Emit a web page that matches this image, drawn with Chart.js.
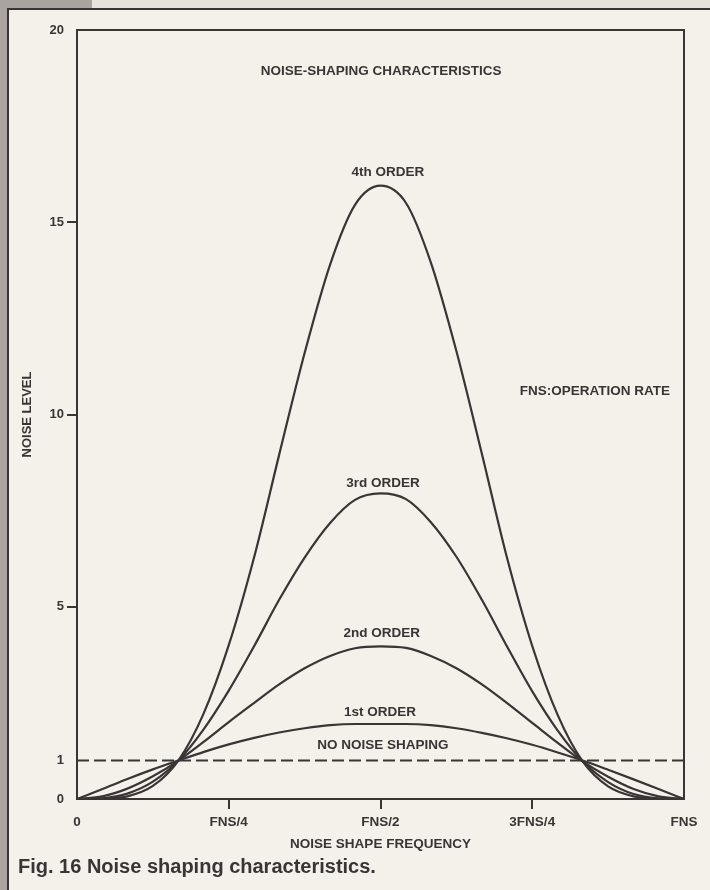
<!DOCTYPE html>
<html>
<head>
<meta charset="utf-8">
<script src="https://cdn.jsdelivr.net/npm/chart.js@4.4.1/dist/chart.umd.min.js"></script>
<style>
  html, body { margin: 0; padding: 0; }
  body { width: 710px; height: 890px; background: #f4f0ea; position: relative; overflow: hidden; }
  #edgeLeft { position: absolute; left: 0; top: 0; width: 7px; height: 890px; background: #a9a4a0; }
  #edgeTop { position: absolute; left: 0; top: 0; width: 710px; height: 8px; background: #e7e2dd; }
  #edgeTopDark { position: absolute; left: 0; top: 0; width: 92px; height: 8px; background: #a9a4a0; }
  #frame { position: absolute; left: 7px; top: 8px; width: 703px; height: 882px; border-left: 2px solid #3a3434; border-top: 2px solid #3a3434; box-sizing: border-box; }
  #chart { position: absolute; left: 0; top: 0; }
  #caption { position: absolute; left: 18px; top: 855px; font: bold 20px "Liberation Sans", Arial, sans-serif; color: #3a3434; }
</style>
</head>
<body>
<div id="edgeTop"></div>
<div id="edgeTopDark"></div>
<div id="edgeLeft"></div>
<div id="frame"></div>
<canvas id="chart" width="710" height="890"></canvas>
<div id="caption">Fig. 16 Noise shaping characteristics.</div>
<script>
// frequency as a fraction of FNS
const freq = [0, 0.042, 0.083, 0.125, 0.167, 0.208, 0.25, 0.292, 0.333, 0.375, 0.417, 0.458, 0.5,
  0.542, 0.583, 0.625, 0.667, 0.708, 0.75, 0.792, 0.833, 0.875, 0.917, 0.958, 1];

// noise level
const firstOrder = [0, 0.26, 0.52, 0.77, 1.0, 1.22, 1.42, 1.59, 1.73, 1.84, 1.92, 1.95, 1.95,
  1.95, 1.92, 1.84, 1.72, 1.58, 1.41, 1.21, 1.0, 0.76, 0.51, 0.26, 0];
const secondOrder = [0, 0.07, 0.27, 0.59, 1.0, 1.48, 2.0, 2.5, 2.98, 3.4, 3.72, 3.92, 3.97,
  3.93, 3.72, 3.4, 2.98, 2.5, 1.98, 1.46, 0.98, 0.58, 0.26, 0.07, 0];
const thirdOrder = [0, 0.02, 0.14, 0.45, 1.0, 1.8, 2.82, 3.98, 5.18, 6.28, 7.18, 7.78, 7.95,
  7.8, 7.2, 6.3, 5.18, 3.98, 2.8, 1.78, 0.98, 0.44, 0.13, 0.02, 0];
const fourthOrder = [0, 0.01, 0.07, 0.34, 1.0, 2.2, 4.0, 6.3, 8.95, 11.6, 13.9, 15.45, 15.95,
  15.5, 13.95, 11.65, 8.98, 6.3, 3.98, 2.18, 0.98, 0.33, 0.07, 0.01, 0];

// no noise shaping reference
const flatFreq = [0, 1];
const noShaping = [1, 1];

// axis ticks
const xTickValues = [0, 0.25, 0.5, 0.75, 1];
const xTickLabels = ["0", "FNS/4", "FNS/2", "3FNS/4", "FNS"];
const yTickValues = [0, 1, 5, 10, 15, 20];

// text inside the plot
const noteTexts = ["NOISE-SHAPING CHARACTERISTICS", "4th ORDER", "3rd ORDER", "2nd ORDER",
  "1st ORDER", "NO NOISE SHAPING", "FNS:OPERATION RATE"];
const noteFreq = [0.501, 0.512, 0.504, 0.502, 0.499, 0.504, 0.853];
const noteLevel = [18.93, 16.31, 8.22, 4.32, 2.26, 1.40, 10.61];

const ink = "#3a3434";
const font = "'Liberation Sans', Arial, sans-serif";

function points(xs, ys) {
  return xs.map((x, i) => ({ x: x, y: ys[i] }));
}

function curve(label, ys) {
  return {
    label: label,
    data: points(freq, ys),
    borderColor: ink,
    borderWidth: 2.2,
    pointRadius: 0,
    cubicInterpolationMode: "monotone",
    fill: false,
    clip: false
  };
}

const framePlugin = {
  id: "frame",
  beforeDatasetsDraw(chart) {
    const a = chart.chartArea;
    const c = chart.ctx;
    c.save();
    c.strokeStyle = ink;
    c.lineWidth = 2;
    c.strokeRect(a.left, a.top, a.right - a.left, a.bottom - a.top);
    c.restore();
  },
  afterDatasetsDraw(chart) {
    const c = chart.ctx;
    const xs = chart.scales.x;
    const ys = chart.scales.y;
    c.save();
    c.fillStyle = ink;
    c.font = "bold 13.5px " + font;
    c.textAlign = "center";
    c.textBaseline = "middle";
    noteTexts.forEach((t, i) => {
      c.fillText(t, xs.getPixelForValue(noteFreq[i]), ys.getPixelForValue(noteLevel[i]));
    });
    c.restore();
  }
};

const tickColor = (hidden) => (ctx) => hidden.includes(ctx.tick && ctx.tick.value) ? "rgba(0,0,0,0)" : ink;

new Chart(document.getElementById("chart"), {
  type: "line",
  data: {
    datasets: [
      curve("1st ORDER", firstOrder),
      curve("2nd ORDER", secondOrder),
      curve("3rd ORDER", thirdOrder),
      curve("4th ORDER", fourthOrder),
      {
        label: "NO NOISE SHAPING",
        data: points(flatFreq, noShaping),
        borderColor: ink,
        borderWidth: 2,
        borderDash: [12, 5],
        pointRadius: 0,
        fill: false
      }
    ]
  },
  options: {
    responsive: false,
    animation: false,
    layout: { padding: { top: 30, right: 26, left: 0, bottom: 0 } },
    plugins: {
      legend: { display: false },
      tooltip: { enabled: false }
    },
    scales: {
      x: {
        type: "linear",
        min: 0,
        max: 1,
        afterBuildTicks: (axis) => { axis.ticks = xTickValues.map(v => ({ value: v })); },
        afterFit: (axis) => { axis.height = 91; },
        ticks: {
          color: ink,
          font: { family: font, size: 13.5, weight: "bold" },
          padding: 5,
          maxRotation: 0,
          autoSkip: false,
          callback: (v) => xTickLabels[xTickValues.indexOf(v)]
        },
        grid: { drawOnChartArea: false, drawTicks: true, tickLength: 10, lineWidth: 2, color: tickColor([0, 1]) },
        border: { display: true, color: ink, width: 2 },
        title: {
          display: true,
          text: "NOISE SHAPE FREQUENCY",
          color: ink,
          font: { family: font, size: 13.5, weight: "bold" },
          padding: { top: 0, bottom: 38 }
        }
      },
      y: {
        type: "linear",
        min: 0,
        max: 20,
        afterBuildTicks: (axis) => { axis.ticks = yTickValues.map(v => ({ value: v })); },
        afterFit: (axis) => { axis.width = 77; },
        ticks: {
          color: ink,
          font: { family: font, size: 13, weight: "bold" },
          padding: 3,
          autoSkip: false
        },
        grid: { drawOnChartArea: false, drawTicks: true, tickLength: 10, lineWidth: 2, color: tickColor([0, 1, 20]) },
        border: { display: true, color: ink, width: 2 },
        title: {
          display: true,
          text: "NOISE LEVEL",
          color: ink,
          font: { family: font, size: 13, weight: "bold" },
          padding: { top: 20, bottom: 0 }
        }
      }
    }
  },
  plugins: [framePlugin]
});
</script>
</body>
</html>
